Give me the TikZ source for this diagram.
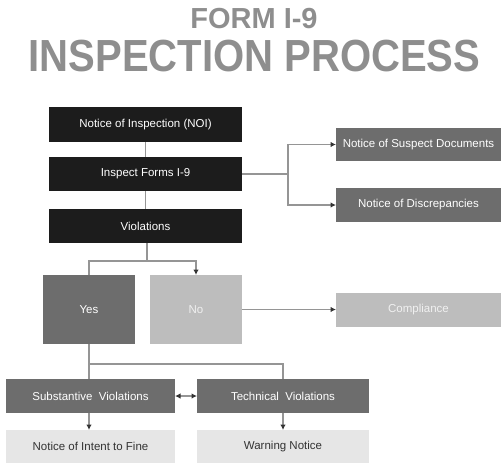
\documentclass[tikz,border=0pt]{standalone}
\usepackage{fontspec}
\setmainfont{Liberation Sans}
\usetikzlibrary{arrows.meta,positioning}
\definecolor{titlegray}{HTML}{8E8E8E}
\definecolor{boxblack}{HTML}{1C1C1C}
\definecolor{boxdark}{HTML}{6D6D6D}
\definecolor{boxmid}{HTML}{BDBDBD}
\definecolor{boxpale}{HTML}{E6E6E6}
\definecolor{linkgray}{HTML}{959595}
\definecolor{tipgray}{HTML}{333333}
\tikzset{
  stepbase/.style={inner sep=0pt,outer sep=0pt,align=center,font=\fontsize{11.5}{13}\selectfont},
  blackbox/.style={stepbase,fill=boxblack,text=white},
  darkbox/.style={stepbase,fill=boxdark,text=white},
  midbox/.style={stepbase,fill=boxmid,text=white!94!black},
  palebox/.style={stepbase,fill=boxpale,text=tipgray},
  link/.style={draw=linkgray,line width=1.1pt},
  arrow/.style={link,-{Latex[length=5.5pt,width=5.5pt,color=tipgray]}},
  dblarrow/.style={link,{Latex[length=5.5pt,width=5.5pt,color=tipgray]}-{Latex[length=5.5pt,width=5.5pt,color=tipgray]}}
}

\begin{document}
\begin{tikzpicture}[x=1pt,y=-1pt]
  \useasboundingbox (0,0) rectangle (501,466);

  % Title
  \node[anchor=base,font=\bfseries\fontsize{29}{30}\selectfont,text=titlegray,inner sep=0pt] (title) at (254,28) {FORM I-9};
  \node[anchor=base,font=\bfseries\fontsize{45}{46}\selectfont,text=titlegray,inner sep=0pt] (subtitle) at (254.5,71) {\scalebox{0.89}[1]{INSPECTION PROCESS}};

  % Main column
  \node[blackbox,minimum width=193pt,minimum height=35pt] (noi) at (145.5,124.5) {Notice of Inspection (NOI)};
  \node[blackbox,minimum width=193pt,minimum height=34pt,below=15pt of noi] (inspect) {Inspect Forms I-9};
  \node[blackbox,minimum width=193pt,minimum height=34pt,below=18pt of inspect] (violations) {Violations};

  % Right side: notices
  \node[darkbox,minimum width=165pt,minimum height=33pt] (suspect) at (418.5,144.5) {Notice of Suspect Documents};
  \node[darkbox,minimum width=165pt,minimum height=34pt] (discrep) at (418.5,205) {Notice of Discrepancies};

  % Outcome
  \node[darkbox,minimum width=92pt,minimum height=69pt] (yes) at (89,309.5) {Yes};
  \node[midbox,minimum width=92pt,minimum height=69pt] (no) at (196,309.5) {No};
  \node[midbox,minimum width=165pt,minimum height=34pt] (compliance) at (418.5,310) {Compliance};

  % Violation types
  \node[darkbox,minimum width=169pt,minimum height=34pt] (subst) at (90.5,396) {Substantive\ \ Violations};
  \node[darkbox,minimum width=172pt,minimum height=34pt] (tech) at (283,396) {Technical\ \ Violations};
  \node[palebox,minimum width=169pt,minimum height=33pt,below=17pt of subst] (fine) {Notice of Intent to Fine};
  \node[palebox,minimum width=172pt,minimum height=33pt,below=17pt of tech] (warning) {Warning Notice};

  % Connectors
  \draw[link] (noi) -- (inspect);
  \draw[link] (inspect) -- (violations);

  \coordinate (inspfork) at (288,174);
  \draw[link] (inspect.east) -- (inspfork);
  \draw[arrow] (inspfork) |- (suspect.west);
  \draw[arrow] (inspfork) |- (discrep.west);

  \coordinate (violfork) at (147,261);
  \draw[link] (violations.south -| violfork) -- (violfork);
  \draw[link] (violfork) -| (yes.north);
  \draw[arrow] (violfork) -| (no.north);

  \draw[arrow] (no.east) -- (compliance.west |- no.east);

  \coordinate (yesfork) at (89,364);
  \draw[link] (yes.south) -- (yesfork) -- (subst.north -| yesfork);
  \draw[link] (yesfork) -| (tech.north);
  \draw[dblarrow] (subst.east) -- (tech.west);

  \draw[arrow] (subst.south -| yesfork) -- (fine.north -| yesfork);
  \draw[arrow] (tech.south) -- (warning.north);
\end{tikzpicture}
\end{document}
